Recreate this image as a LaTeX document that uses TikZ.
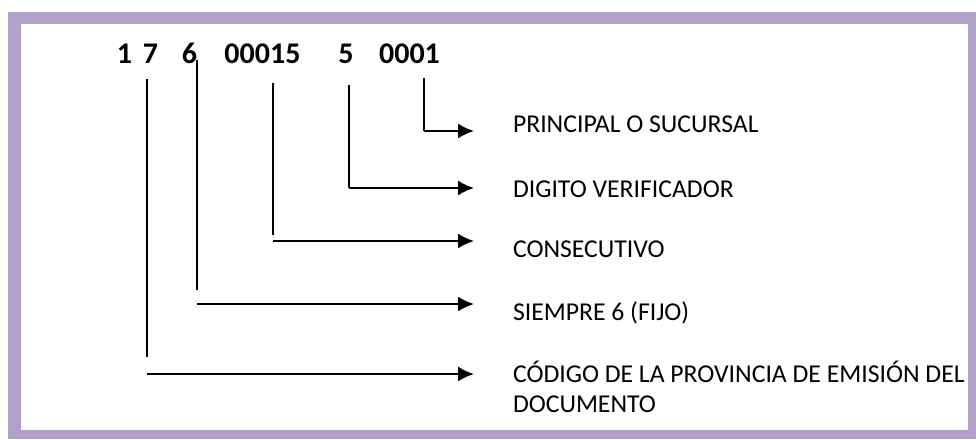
\documentclass[tikz,border=0pt]{standalone}
\usepackage{fontspec}
\setmainfont{Carlito}
\usetikzlibrary{arrows.meta}

\definecolor{marco}{RGB}{177,160,199}
\tikzset{
  digit/.style={anchor=base, inner sep=0pt, font=\fontsize{30}{36}\selectfont\bfseries},
  lbl/.style={anchor=base west, inner sep=0pt, align=left, font=\fontsize{25.7}{30}\selectfont}
}

\begin{document}
\begin{tikzpicture}[>={Latex[length=16pt,width=15pt]}, x=1pt, y=-1pt, line width=2pt]
  \useasboundingbox (0,0) rectangle (976,439);
  \fill[marco] (8,12) rectangle (976,439);
  \fill[white] (21,24) rectangle (968,430);
  % number
  \node[digit] (d1) at (124.5,63) {1};
  \node[digit] (d7) at (150.5,63) {7};
  \node[digit] (d6) at (189.5,63) {6};
  \node[digit] (dcons) at (262.5,63) {00015};
  \node[digit] (dver) at (346,63) {5};
  \node[digit] (dsuc) at (409.5,63) {0001};
  % labels
  \node[lbl] (lsuc) at (512,132) {PRINCIPAL O SUCURSAL};
  \node[lbl] (lver) at (512,197) {DIGITO VERIFICADOR};
  \node[lbl] (lcons) at (512,257) {CONSECUTIVO};
  \node[lbl] (lfijo) at (512,320) {SIEMPRE 6 (FIJO)};
  \node[lbl] (lprov) at (512,412) {CÓDIGO DE LA PROVINCIA DE EMISIÓN DEL\\DOCUMENTO};
  \coordinate (tip) at (474,0);
  % vertical lines
  \coordinate (e7) at (147,357);   \draw (d7.south -| e7) ++(0,15) -- (e7);
  \coordinate (e6) at (197,290);   \draw (197,60) -- (e6);
  \coordinate (econs) at (273,235); \draw (273,83) -- (econs);
  \coordinate (ever) at (349,188);  \draw (349,85) -- (ever);
  \coordinate (esuc) at (424,131);  \draw (424,78) -- (esuc);
  % arrows
  \coordinate (h7) at (147,374);
  \coordinate (h6) at (197,304);
  \coordinate (hcons) at (273,241);
  \draw[->] (h7) -- (h7 -| tip);
  \draw[->] (h6) -- (h6 -| tip);
  \draw[->] (hcons) -- (hcons -| tip);
  \draw[->] (ever) -- (ever -| tip);
  \draw[->] (esuc) -- (esuc -| tip);
\end{tikzpicture}
\end{document}
